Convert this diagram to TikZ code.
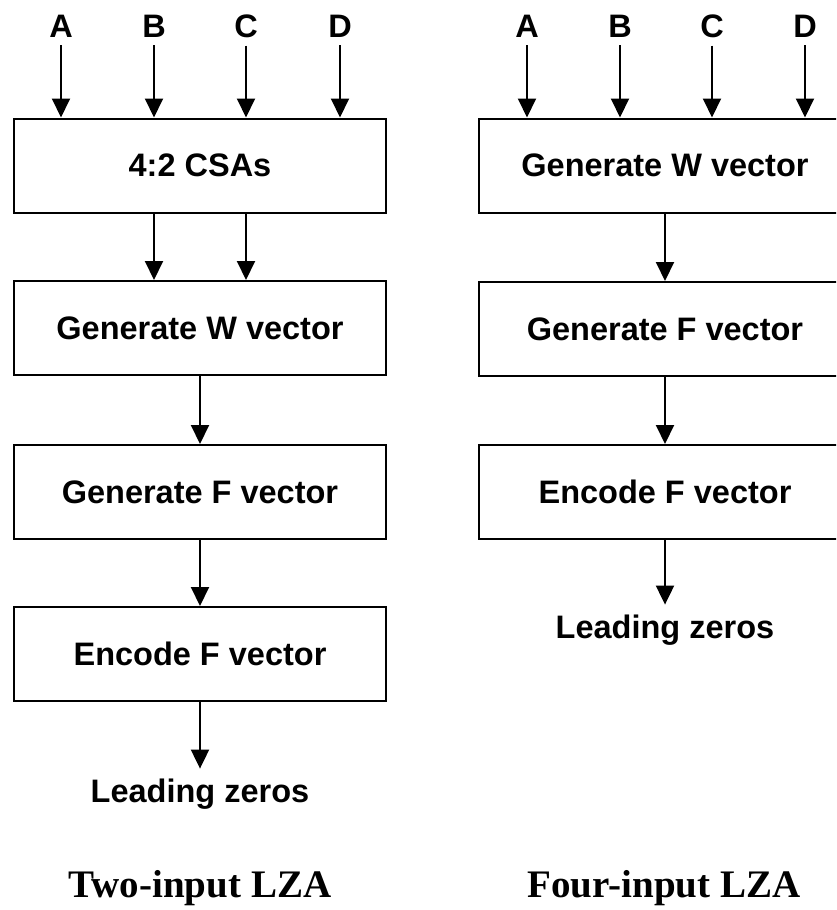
\documentclass[tikz,border=0pt]{standalone}
\usepackage{fontspec}
\setmainfont{Liberation Serif}
\setsansfont{Liberation Sans}
\usetikzlibrary{arrows.meta}
\tikzset{
  blk/.style={draw, line width=2pt, minimum width=372pt, minimum height=94pt,
              inner sep=0pt, font=\sffamily\bfseries\fontsize{32.5}{36}\selectfont},
  lbl/.style={inner sep=0pt, font=\sffamily\bfseries\fontsize{32.5}{36}\selectfont},
  ttl/.style={inner sep=0pt, font=\rmfamily\bfseries\fontsize{39}{44}\selectfont},
  arr/.style={line width=2pt, -{Triangle[width=18pt,length=19pt]}}
}
\begin{document}
\begin{tikzpicture}[x=1pt,y=-1pt]
\useasboundingbox (0,0) rectangle (836,910);
\clip (0,0) rectangle (836,910);

% two-input LZA
\node[lbl] (la) at (61,26) {A};
\node[lbl] (lb) at (154,26) {B};
\node[lbl] (lc) at (246,26) {C};
\node[lbl] (ld) at (340,26) {D};
\node[blk] (csa) at (200,165.5) {4:2 CSAs};
\node[blk] (gw)  at (200,328)   {Generate W vector};
\node[blk] (gf)  at (200,492)   {Generate F vector};
\node[blk] (ef)  at (200,654)   {Encode F vector};
\node[lbl] (lz)  at (200,794)   {Leading zeros};
\node[ttl] (t2)  at (200,888)   {Two-input LZA};

\foreach \n in {la,lb,lc,ld}
  \draw[arr] ([yshift=-8pt]\n.south) -- (\n.south |- csa.north);
\draw[arr] ([xshift=-46pt]csa.south) -- ([xshift=-46pt]gw.north);
\draw[arr] ([xshift=46pt]csa.south) -- ([xshift=46pt]gw.north);
\draw[arr] (gw) -- (gf);
\draw[arr] (gf) -- (ef);
\draw[arr] (ef.south) -- ([yshift=10pt]lz.north);

% four-input LZA
\node[lbl] (ra) at (527,26) {A};
\node[lbl] (rb) at (620,26) {B};
\node[lbl] (rc) at (712,26) {C};
\node[lbl] (rd) at (805,26) {D};
\node[blk] (rgw) at (665,165.5) {Generate W vector};
\node[blk] (rgf) at (665,329)   {Generate F vector};
\node[blk] (ref) at (665,492)   {Encode F vector};
\node[lbl] (rlz) at (665,630)   {Leading zeros};
\node[ttl] (t4)  at (664,888)   {Four-input LZA};

\foreach \n in {ra,rb,rc,rd}
  \draw[arr] ([yshift=-8pt]\n.south) -- (\n.south |- rgw.north);
\draw[arr] (rgw) -- (rgf);
\draw[arr] (rgf) -- (ref);
\draw[arr] (ref.south) -- ([yshift=10pt]rlz.north);
\end{tikzpicture}
\end{document}
